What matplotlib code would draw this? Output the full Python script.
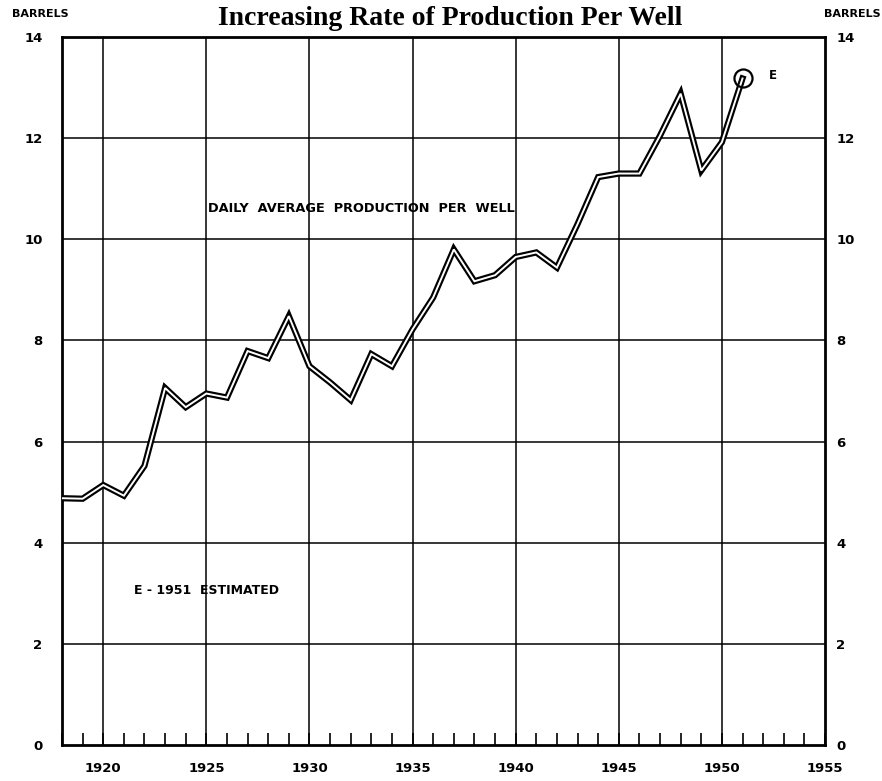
import matplotlib
matplotlib.use("Agg")
import matplotlib.pyplot as plt

years = list(range(1918, 1952))
per_well = [4.88, 4.87, 5.14, 4.93, 5.52, 7.06, 6.68, 6.95, 6.87, 7.79,
            7.65, 8.48, 7.49, 7.17, 6.82, 7.73, 7.49, 8.22, 8.85, 9.80,
            9.17, 9.29, 9.65, 9.74, 9.44, 10.30, 11.23, 11.30, 11.30, 12.05,
            12.88, 11.36, 11.92, 13.18]
x_ticks = [1920, 1925, 1930, 1935, 1940, 1945, 1950, 1955]
y_ticks = [0, 2, 4, 6, 8, 10, 12, 14]

title = "Increasing Rate of Production Per Well"
series_label = "DAILY  AVERAGE  PRODUCTION  PER  WELL"
note = "E - 1951  ESTIMATED"

sans = ["DejaVu Sans"]
serif = ["Liberation Serif", "DejaVu Serif"]

fig = plt.figure(figsize=(8.82, 7.81), dpi=100)
ax = fig.add_axes([62/882, 36/781, (825-62)/882, (745-37)/781])
ax.set_xlim(1918, 1955)
ax.set_ylim(0, 14)

# grid
for xv in x_ticks[:-1]:
    ax.axvline(xv, color="black", lw=1.1, zorder=1)
for yv in y_ticks[1:-1]:
    ax.axhline(yv, color="black", lw=1.1, zorder=1)

for s in ax.spines.values():
    s.set_linewidth(2.0)

# the series: double (outlined) line
ax.plot(years, per_well, color="black", lw=4.5, solid_joinstyle="miter", zorder=3)
ax.plot(years, per_well, color="white", lw=1.4, solid_joinstyle="miter", zorder=4)
ax.plot([years[-1]], [per_well[-1]], marker="o", ms=13, mfc="none",
        mec="black", mew=1.6, zorder=5)
ax.text(years[-1] + 1.3, per_well[-1] + 0.05, "E", fontsize=8.5, fontweight="bold",
        family=sans, ha="left", va="center")

# ticks
ax.set_xticks(x_ticks)
ax.set_xticklabels([str(v) for v in x_ticks], fontsize=9.5, fontweight="bold", family=sans)
ax.set_xticks(range(1918, 1956), minor=True)
ax.tick_params(axis="x", which="both", direction="in", length=9, width=1.2, pad=12,
               top=False, bottom=True)
ax.set_yticks(y_ticks)
ax.set_yticklabels([str(v) for v in y_ticks], fontsize=9.5, fontweight="bold", family=sans)
ax.tick_params(axis="y", which="both", length=0, pad=14, left=True, right=False,
               labelleft=True, labelright=False)

ax2 = ax.twinx()
ax2.set_ylim(0, 14)
ax2.set_yticks(y_ticks)
ax2.set_yticklabels([str(v) for v in y_ticks], fontsize=9.5, fontweight="bold", family=sans)
ax2.tick_params(axis="y", length=0, pad=8)
for s in ax2.spines.values():
    s.set_visible(False)

# titles and labels
fig.text(0.51, 0.976, title, fontsize=20, fontweight="bold", family=serif,
         ha="center", va="center")
fig.text(0.046, 0.982, "BARRELS", fontsize=8, fontweight="bold", family=sans,
         ha="center", va="center")
fig.text(0.966, 0.982, "BARRELS", fontsize=8, fontweight="bold", family=sans,
         ha="center", va="center")

ax.text(1932.5, 10.6, series_label, fontsize=9.3, fontweight="bold", family=sans,
        ha="center", va="center")
ax.text(1925.0, 3.05, note, fontsize=9, fontweight="bold", family=sans,
        ha="center", va="center")

fig.savefig("out.png", dpi=100)
